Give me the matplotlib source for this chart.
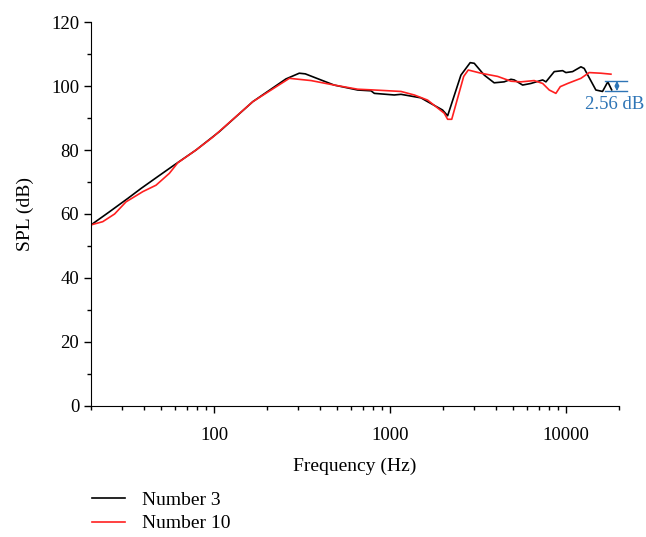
import numpy as np
import matplotlib
matplotlib.use("Agg")
import matplotlib.pyplot as plt
from matplotlib.ticker import FixedLocator, NullFormatter

# Number 3 (black)
f3 = [20, 25.3, 32.4, 38.5, 47.9, 58.3, 79, 107, 166, 256, 305, 330, 481, 655, 780,
      815, 1057, 1155, 1500, 1601, 1990, 2127, 2530, 2857, 3013, 3435, 3910, 4456,
      4870, 5084, 5675, 6325, 7376, 7700, 8585, 9578, 10000, 10914, 12170, 12700,
      14800, 16150, 17300, 18200]
spl3 = [56.6, 60.6, 64.9, 68.0, 71.7, 75.0, 80.0, 85.7, 95.1, 102.2, 104.0, 103.8,
        100.3, 98.75, 98.5, 97.7, 97.2, 97.4, 96.3, 95.4, 92.5, 90.7, 103.4, 107.3,
        107.1, 103.4, 101.0, 101.3, 102.1, 101.9, 100.3, 100.8, 101.9, 101.3, 104.5,
        104.8, 104.2, 104.5, 106.0, 105.5, 98.75, 98.3, 101.3, 98.8]

# Number 10 (red)
f10 = [20, 23.3, 27.2, 31.6, 39.4, 46.8, 55.7, 62.2, 79, 98.3, 166, 268, 356, 481,
       655, 815, 1155, 1374, 1636, 2034, 2127, 2244, 2624, 2786, 3289, 4093, 4870,
       5550, 6600, 7376, 8040, 8770, 9290, 10240, 12170, 13560, 15800, 18030]
spl10 = [56.6, 57.6, 60.0, 63.8, 67.0, 69.0, 72.7, 76.0, 80.0, 84.0, 95.1, 102.4,
         101.7, 100.3, 99.0, 98.75, 98.3, 97.2, 95.6, 91.5, 89.6, 89.6, 103.0, 105.0,
         104.0, 103.0, 101.5, 101.3, 101.7, 100.8, 98.75, 97.7, 99.8, 100.8, 102.4,
         104.2, 104.0, 103.7]

# spread marker
gap_top, gap_bottom = 101.6, 98.4
gap_label = '2.56 dB'

plt.rcParams['font.family'] = ['Liberation Serif', 'DejaVu Serif']

fig = plt.figure(figsize=(6.46, 5.37), dpi=100)
ax = fig.add_axes([0.141, 0.244, 0.817, 0.715])

ax.plot(f3, spl3, color='black', lw=1.2, label='Number 3')
ax.plot(f10, spl10, color='#ff2020', lw=1.2, label='Number 10')

ax.set_xscale('log')
ax.set_xlim(20, 20000)
ax.set_ylim(0, 120)
ax.xaxis.set_major_locator(FixedLocator([100, 1000, 10000]))
ax.xaxis.set_minor_locator(FixedLocator(
    [m * 10 ** e for e in range(1, 5) for m in range(2, 10) if 20 <= m * 10 ** e <= 20000]))
ax.xaxis.set_minor_formatter(NullFormatter())
ax.set_xticklabels(['100', '1000', '10000'])
ax.set_yticks(np.arange(0, 121, 20))
ax.set_yticks(np.arange(10, 120, 20), minor=True)

for s in ['top', 'right']:
    ax.spines[s].set_visible(False)
ax.tick_params(which='major', direction='out', length=5, width=1, labelsize=13.5)
ax.tick_params(which='minor', direction='out', length=3, width=1)
ax.tick_params(axis='x', which='major', pad=10.5)

ax.set_xlabel('Frequency (Hz)', fontsize=14, labelpad=9.5)
ax.set_ylabel('SPL (dB)', fontsize=14, labelpad=12)

# 2.56 dB marker
blue = '#2e75b6'
for yv in (gap_top, gap_bottom):
    ax.plot([16700, 22200], [yv, yv], color=blue, lw=1, clip_on=False)
ax.annotate('', xy=(19500, gap_top), xytext=(19500, gap_bottom),
            arrowprops=dict(arrowstyle='<|-|>', color=blue, lw=1, mutation_scale=6,
                            shrinkA=0, shrinkB=0), annotation_clip=False)
ax.text(18970, 94.2, gap_label, color=blue, fontsize=13.5, ha='center', va='center',
        clip_on=False)

leg = fig.legend(loc='upper left', bbox_to_anchor=(0.142, 0.085), frameon=False,
                 fontsize=14, handlelength=1.7, labelspacing=0.3, borderpad=0,
                 borderaxespad=0, handletextpad=0.9)

fig.savefig('out.png', dpi=100)
